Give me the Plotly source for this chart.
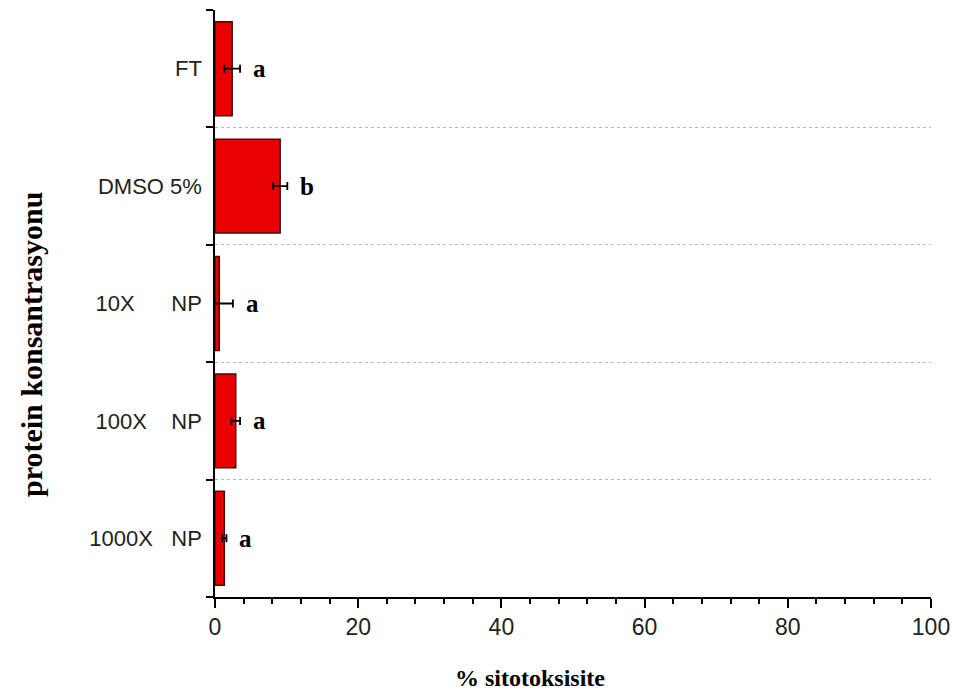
import plotly.graph_objects as go

categories = ["FT", "DMSO 5%", "10X\u00a0\u00a0\u00a0\u00a0\u00a0\u00a0NP", "100X\u00a0\u00a0\u00a0\u00a0NP", "1000X\u00a0\u00a0\u00a0NP"]
values = [2.4, 9.1, 0.6, 2.9, 1.3]
errors = [1.1, 1.0, 1.9, 0.6, 0.3]
letters = ["a", "b", "a", "a", "a"]
x_ticks = [0, 20, 40, 60, 80, 100]

fig = go.Figure()
fig.add_trace(go.Bar(
    y=categories, x=values, orientation="h",
    marker=dict(color="#e80000", line=dict(color="#4a0a0a", width=1.5)),
    error_x=dict(type="data", array=errors, visible=True, color="black", thickness=1.8, width=4),
    width=0.8,
))

for cat, v, e, t in zip(categories, values, errors, letters):
    fig.add_annotation(x=v + e, y=cat, text="<b>" + t + "</b>", showarrow=False, xanchor="left", xshift=11,
                       font=dict(family="Liberation Serif", size=25, color="black"))

fig.add_annotation(xref="paper", yref="paper", x=-0.257, y=0.431, xanchor="center", yanchor="middle",
                   textangle=-90, showarrow=False,
                   text="<b>protein konsantrasyonu</b>",
                   font=dict(family="Liberation Serif", size=30, color="black"))
fig.add_annotation(xref="paper", yref="paper", x=0.44, y=-0.138, xanchor="center", yanchor="middle",
                   showarrow=False,
                   text="<b>% sitotoksisite</b>",
                   font=dict(family="Liberation Serif", size=24, color="black"))

fig.update_layout(
    width=950, height=690,
    margin=dict(l=207, r=27, t=2, b=101),
    paper_bgcolor="white", plot_bgcolor="white",
    showlegend=False,
    xaxis=dict(range=[0, 100], tickvals=x_ticks, ticks="outside", ticklen=9, tickwidth=1.5,
               tickcolor="black", showline=True, linecolor="black", linewidth=1.5,
               showgrid=False, zeroline=False, automargin=False,
               minor=dict(dtick=4, ticks="outside", ticklen=5, tickwidth=1.5, tickcolor="black", showgrid=False),
               tickfont=dict(family="Liberation Sans", size=23, color="#222")),
    yaxis=dict(categoryorder="array", categoryarray=categories[::-1], range=[-0.5, 4.5],
               tickson="boundaries", ticks="outside", ticklen=7, tickwidth=1.5, tickcolor="black",
               showline=True, linecolor="black", linewidth=1.5, automargin=False,
               ticklabelstandoff=7,
               showgrid=True, gridcolor="#b8b8b8", griddash="dot", gridwidth=1,
               zeroline=False,
               tickfont=dict(family="Liberation Sans", size=22, color="#222")),
)

fig.write_html("out.html")
